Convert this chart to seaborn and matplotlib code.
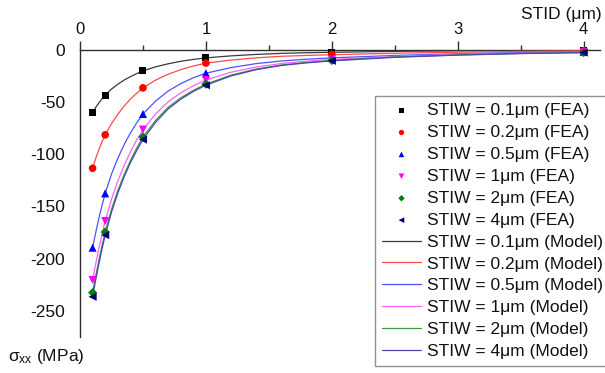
import matplotlib
matplotlib.use("Agg")
import matplotlib.pyplot as plt
import seaborn as sns
from matplotlib.ticker import MultipleLocator

# ---- data -----------------------------------------------------------------
widths = ["0.1", "0.2", "0.5", "1", "2", "4"]

# FEA results: sigma_xx (MPa) versus STID (um)
fea_stid = [0.1, 0.2, 0.5, 1.0, 2.0, 4.0]
fea_w01 = [-60, -43.5, -20.3, -7.8, -2.5, -0.5]
fea_w02 = [-113.5, -81.5, -36.5, -12.8, -4.5, -1.0]
fea_w05 = [-189.5, -137.5, -61.5, -22.5, -7.8, -2.0]
fea_w1 = [-220.5, -164, -76.5, -29, -9.3, -2.5]
fea_w2 = [-232.5, -174.5, -83.5, -33, -10.3, -2.7]
fea_w4 = [-236.5, -177.5, -86, -34, -10.7, -2.8]

# analytical model curves
model_stid = [0.1, 0.125, 0.15, 0.175, 0.2, 0.25, 0.3, 0.35, 0.4, 0.45,
              0.5, 0.6, 0.7, 0.8, 0.9, 1.0, 1.2, 1.4, 1.6, 1.8,
              2.0, 2.5, 3.0, 3.5, 4.0]
model_w01 = [-60, -55.2, -50.9, -47.0, -43.4, -37.7, -33.1, -29.1, -25.8, -22.9,
             -20.3, -16.4, -13.5, -11.1, -9.3, -7.8, -5.9, -4.5, -3.5, -2.9,
             -2.5, -1.6, -1.05, -0.74, -0.55]
model_w02 = [-113.5, -104, -95.6, -88.2, -81.5, -70.8, -61.9, -54.1, -47.2, -41.7,
             -36.6, -29.1, -23.5, -19.1, -15.6, -12.9, -9.9, -7.8, -6.3, -5.5,
             -4.8, -3.4, -2.4, -1.65, -1.1]
model_w05 = [-189.5, -175, -161.4, -149, -137.5, -119.1, -104.1, -90.9, -79.8, -70.1,
             -61.5, -49.2, -39.6, -32.5, -26.8, -22.5, -17.1, -13.3, -10.8, -9.1,
             -7.8, -5.5, -3.9, -2.8, -2.0]
model_w1 = [-220.5, -204.8, -190.2, -176.6, -164, -143.3, -125.8, -111, -98, -86.5,
            -76.5, -61.6, -49.9, -41.3, -34.5, -29.0, -21.5, -16.6, -13.2, -11.0,
            -9.3, -6.4, -4.5, -3.3, -2.5]
model_w2 = [-232.5, -216.4, -201.4, -187.5, -174.5, -152.9, -134.9, -119.7, -106.2, -94.2,
            -83.5, -67.7, -55.1, -46.1, -38.9, -33.0, -24.3, -18.5, -14.6, -12.2,
            -10.3, -7.0, -5.0, -3.6, -2.7]
model_w4 = [-236.5, -220.2, -205, -190.8, -177.5, -155.6, -137.4, -121.9, -108.2, -96.6,
            -86, -69.6, -56.7, -47.4, -40.0, -34.0, -25.1, -19.1, -15.1, -12.6,
            -10.7, -7.3, -5.2, -3.7, -2.8]

fea_series = [fea_w01, fea_w02, fea_w05, fea_w1, fea_w2, fea_w4]
model_series = [model_w01, model_w02, model_w05, model_w1, model_w2, model_w4]

point_colors = ["#000000", "#ff0000", "#0000ff", "#ff00ff", "#008000", "#000080"]
line_colors = ["#3a3a3a", "#ff4a4a", "#5050ff", "#ff60ff", "#3c9a3c", "#4848b0"]
markers = ["s", "o", "^", "v", "D", "<"]
sizes = [26, 30, 34, 34, 22, 34]

# ---- style ----------------------------------------------------------------
sns.set_style("white")
plt.rcParams["font.family"] = ["Liberation Sans", "DejaVu Sans"]
plt.rcParams["axes.unicode_minus"] = False
plt.rcParams["mathtext.fontset"] = "custom"
plt.rcParams["mathtext.rm"] = "Liberation Sans"
plt.rcParams["mathtext.it"] = "Liberation Sans"
plt.rcParams["mathtext.bf"] = "Liberation Sans:bold"
FS = 12.5
FS_LEG = 12.5
TXT = "#111111"
AX = "#303030"

fig = plt.figure(figsize=(6.05, 3.73), dpi=100)
ax = fig.add_axes([80 / 605, 36 / 373, 520 / 605, 287.3 / 373])

handles = []
labels = []
for w, vals, c, m, s in zip(widths, fea_series, point_colors, markers, sizes):
    sns.scatterplot(x=fea_stid, y=vals, ax=ax, color=c, marker=m, s=s,
                    edgecolor="none", zorder=4, legend=False, clip_on=False)
    handles.append(ax.collections[-1])
    labels.append(f"STIW = {w}\u03bcm (FEA)")

for w, vals, c in zip(widths, model_series, line_colors):
    sns.lineplot(x=model_stid, y=vals, ax=ax, color=c, lw=0.9, sort=False,
                 estimator=None, zorder=3, legend=False)
    handles.append(ax.lines[-1])
    labels.append(f"STIW = {w}\u03bcm (Model)")

# ---- axes -----------------------------------------------------------------
ax.set_xlim(0, 4.13)
ax.set_ylim(-275, 0)
ax.set_xlabel("")
ax.set_ylabel("")

ax.spines["right"].set_visible(False)
ax.spines["bottom"].set_visible(False)
for sp in ("top", "left"):
    ax.spines[sp].set_color(AX)
    ax.spines[sp].set_linewidth(1.0)

ax.xaxis.set_ticks_position("top")
ax.xaxis.set_major_locator(MultipleLocator(1))
ax.xaxis.set_minor_locator(MultipleLocator(0.5))
ax.yaxis.set_minor_locator(MultipleLocator(25))
ax.set_yticks([0, -50, -100, -150, -200, -250])

ax.tick_params(axis="both", which="major", direction="out", length=6.8,
               width=1.0, color=AX, labelcolor=TXT)
ax.tick_params(axis="both", which="minor", direction="out", length=3.6,
               width=1.0, color=AX)
ax.tick_params(axis="x", which="both", top=True, bottom=False)
ax.tick_params(axis="x", which="major", pad=2.2, labelsize=FS - 0.5)
ax.tick_params(axis="y", which="major", pad=4, labelsize=FS)
ax.grid(False)

fig.text(602 / 605, 1 - 14 / 373, "STID (\u03bcm)", ha="right", va="center",
         fontsize=FS, color=TXT)
fig.text(8 / 605, 1 - 356 / 373, r"$\sigma_{xx}$ (MPa)", ha="left",
         va="center", fontsize=FS, color=TXT)

leg = fig.legend(handles, labels, loc="upper left",
                 bbox_to_anchor=(375 / 605, 1 - 96 / 373),
                 bbox_transform=fig.transFigure, fontsize=FS_LEG, frameon=True,
                 fancybox=False, borderaxespad=0, borderpad=0.4,
                 handlelength=2.25, handletextpad=0.35, labelspacing=0.39,
                 markerscale=0.7)
leg.get_frame().set_edgecolor("#777777")
leg.get_frame().set_linewidth(1.0)
for t in leg.get_texts():
    t.set_color(TXT)

fig.savefig("out.png", dpi=100)
